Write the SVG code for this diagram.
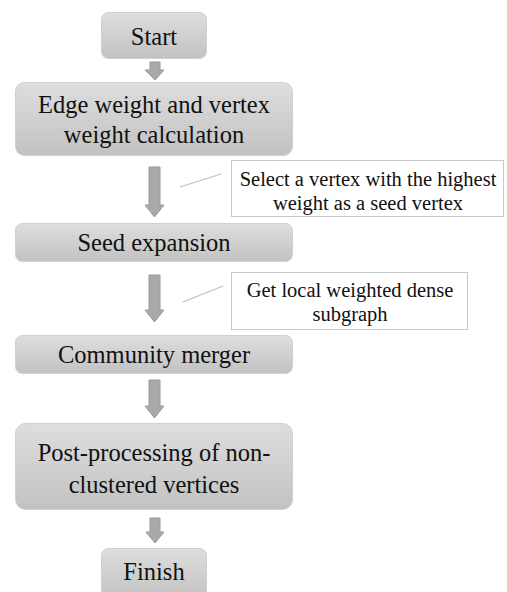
<svg xmlns="http://www.w3.org/2000/svg" width="507" height="592" viewBox="0 0 507 592">
<defs>
<linearGradient id="g" x1="0" y1="0" x2="0" y2="1">
<stop offset="0" stop-color="#dedede"/>
<stop offset="1" stop-color="#c2c2c2"/>
</linearGradient>
</defs>
<style>
.box{fill:url(#g);stroke:#d0d0d0;stroke-width:1}
.call{fill:#fff;stroke:#c8c8c8;stroke-width:1}
.arr{fill:#a9a9a9;stroke:#9a9a9a;stroke-width:1}
.ln{stroke:#c0c0c0;stroke-width:1.2;fill:none}
.t{font-family:'Liberation Serif','Times New Roman',serif;font-size:24.5px;fill:#111;text-anchor:middle}
.c{font-family:'Liberation Serif','Times New Roman',serif;font-size:20.5px;fill:#111;text-anchor:middle}
</style>
<rect width="507" height="592" fill="#fff"/>
<g id="connectors">
<path class="arr" d="M150,62 H160 V70 H164 L155,80 L145,70 H150 Z"/>
<path class="arr" d="M149,167 H160 V205 H164 L154.5,217 L145,205 H149 Z"/>
<path class="arr" d="M149,275 H160 V310 H164 L154.5,322 L145,310 H149 Z"/>
<path class="arr" d="M149,380 H160 V406 H164 L154.5,418 L145,406 H149 Z"/>
<path class="arr" d="M150,518 H160 V532 H164 L155,543 L146,532 H150 Z"/>
<line class="ln" x1="180" y1="187" x2="221" y2="174"/>
<line class="ln" x1="183" y1="302" x2="223" y2="286"/>
</g>
<g id="start"><rect class="box" x="101.5" y="12.5" width="105" height="46" rx="7"/><text class="t" x="154" y="45">Start</text></g>
<g id="weight"><rect class="box" x="15.5" y="82.5" width="277" height="73" rx="9"/><text class="t" x="154" y="113">Edge weight and vertex</text><text class="t" x="154" y="143">weight calculation</text></g>
<g id="note1"><rect class="call" x="231.5" y="160.5" width="272" height="56"/><text class="c" x="368" y="186">Select a vertex with the highest</text><text class="c" x="368" y="210">weight as a seed vertex</text></g>
<g id="seed"><rect class="box" x="15.5" y="223.5" width="277" height="38" rx="7"/><text class="t" x="154" y="251">Seed expansion</text></g>
<g id="note2"><rect class="call" x="231.5" y="272.5" width="236" height="57"/><text class="c" x="350" y="297">Get local weighted dense</text><text class="c" x="350" y="321">subgraph</text></g>
<g id="merger"><rect class="box" x="15.5" y="335.5" width="277" height="38" rx="7"/><text class="t" x="154" y="363">Community merger</text></g>
<g id="post"><rect class="box" x="15.5" y="423.5" width="277" height="86" rx="10"/><text class="t" x="154" y="461">Post-processing of non-</text><text class="t" x="154" y="493">clustered vertices</text></g>
<g id="finish"><rect class="box" x="101.5" y="548.5" width="105" height="50" rx="7"/><text class="t" x="154" y="580">Finish</text></g>
</svg>
